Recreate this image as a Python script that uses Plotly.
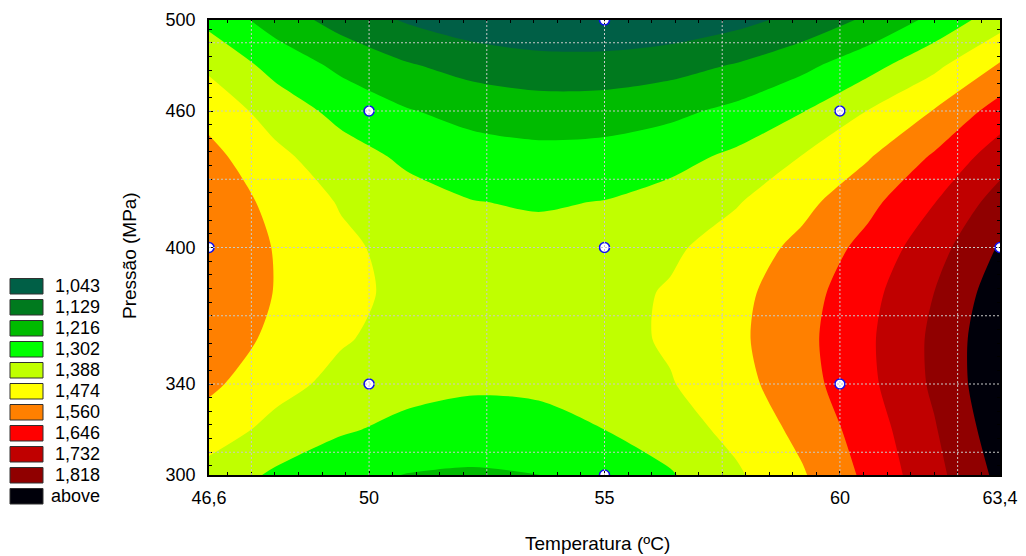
import plotly.graph_objects as go

# ---------------- data ----------------
temperature = [46.6, 48.0, 49.4, 50.8, 52.2, 53.6, 55.0, 56.4, 57.8, 59.2, 60.6, 62.0, 63.4]
pressure = [300, 320, 340, 360, 380, 400, 420, 440, 460, 480, 500]

# response surface values, one row per pressure (300 -> 500)
z_300 = [1.3551, 1.2883, 1.2408, 1.2127, 1.2039, 1.2145, 1.2444, 1.2937, 1.3750, 1.4650, 1.5800, 1.7050, 1.8400]
z_320 = [1.4324, 1.3622, 1.3114, 1.2799, 1.2677, 1.2749, 1.3015, 1.3474, 1.4127, 1.4973, 1.6012, 1.7245, 1.8672]
z_340 = [1.4908, 1.4172, 1.3630, 1.3282, 1.3127, 1.3165, 1.3397, 1.3822, 1.4441, 1.5254, 1.6260, 1.7459, 1.8852]
z_360 = [1.5302, 1.4533, 1.3958, 1.3576, 1.3387, 1.3392, 1.3590, 1.3982, 1.4567, 1.5346, 1.6319, 1.7484, 1.8844]
z_380 = [1.5508, 1.4706, 1.4096, 1.3681, 1.3459, 1.3430, 1.3595, 1.3953, 1.4505, 1.5250, 1.6189, 1.7321, 1.8647]
z_400 = [1.5525, 1.4689, 1.4046, 1.3597, 1.3341, 1.3279, 1.3410, 1.3735, 1.4253, 1.4965, 1.5870, 1.6968, 1.8260]
z_420 = [1.5354, 1.4484, 1.3807, 1.3324, 1.3035, 1.2939, 1.3037, 1.3328, 1.3812, 1.4490, 1.5362, 1.6427, 1.7685]
z_440 = [1.4993, 1.4089, 1.3379, 1.2863, 1.2540, 1.2410, 1.2474, 1.2732, 1.3183, 1.3900, 1.4665, 1.5696, 1.6921]
z_460 = [1.4443, 1.3506, 1.2762, 1.2212, 1.1856, 1.1693, 1.1723, 1.1947, 1.2364, 1.2975, 1.3900, 1.4777, 1.5969]
z_480 = [1.3705, 1.2734, 1.1957, 1.1373, 1.0983, 1.0786, 1.0783, 1.0973, 1.1357, 1.1934, 1.2705, 1.3669, 1.4827]
z_500 = [1.2777, 1.1773, 1.0962, 1.0345, 0.9921, 0.9691, 0.9654, 0.9811, 1.0161, 1.0704, 1.1442, 1.2372, 1.3496]
z_grid = [z_300, z_320, z_340, z_360, z_380, z_400, z_420, z_440, z_460, z_480, z_500]

# experimental design points
design_temp = [50, 50, 60, 60, 46.6, 63.4, 55, 55, 55]
design_press = [340, 460, 340, 460, 400, 400, 300, 500, 400]

# contour levels / legend
level_labels = ["1,043", "1,129", "1,216", "1,302", "1,388", "1,474", "1,560", "1,646", "1,732", "1,818", "above"]
level_colors = ["#005F46", "#007A1E", "#00BB00", "#00FF00", "#C0FF00", "#FFFF00",
                "#FF8000", "#FF0000", "#C00000", "#900000", "#00000A"]
level_start = 1.043
level_end = 1.818
level_step = 0.0861

# axis ticks
x_ticks = [46.6, 50, 55, 60, 63.4]
x_ticktext = ["46,6", "50", "55", "60", "63,4"]
y_ticks = [300, 340, 400, 460, 500]
y_ticktext = ["300", "340", "400", "460", "500"]
grid_x = [47.5, 50, 52.5, 55, 57.5, 60, 62.5]
grid_y = [310, 340, 370, 400, 430, 460, 490]

# ---------------- layout geometry (pixels) ----------------
W, H = 1026, 556
L, R, T, B = 209, 26, 20, 81
PW, PH = W - L - R, H - T - B
FONT = "Liberation Sans, Arial, sans-serif"


def px_x(px):
    return (px - L) / PW


def px_y(py):
    return (H - B - py) / PH


n = len(level_colors)
colorscale = [[i / (n - 1), c] for i, c in enumerate(level_colors)]

fig = go.Figure()
fig.add_trace(go.Contour(
    x=temperature, y=pressure, z=z_grid,
    colorscale=colorscale, showscale=False,
    contours=dict(start=level_start, end=level_end, size=level_step,
                  coloring="fill", showlines=False),
    line=dict(width=0, smoothing=0.8),
    hoverinfo="skip",
))

fig.add_trace(go.Scatter(
    x=design_temp, y=design_press, mode="markers",
    marker=dict(symbol="circle", size=10, color="white",
                line=dict(color="#1010F0", width=1.6)),
    showlegend=False, hoverinfo="skip",
))

shapes = []
for gx in grid_x:
    shapes.append(dict(type="line", xref="x", yref="paper", x0=gx, x1=gx, y0=0, y1=1,
                       line=dict(color="#C8C8C8", width=1, dash="2px,2px"), layer="above"))
for gy in grid_y:
    shapes.append(dict(type="line", xref="paper", yref="y", x0=0, x1=1, y0=gy, y1=gy,
                       line=dict(color="#C8C8C8", width=1, dash="2px,2px"), layer="above"))

# legend boxes (left side)
annotations = []
box_x0, box_x1 = 10, 43
box_top0, box_h, pitch = 278.5, 15.5, 21
for i, (lab, col) in enumerate(zip(level_labels, level_colors)):
    top = box_top0 + i * pitch
    shapes.append(dict(type="rect", xref="paper", yref="paper",
                       x0=px_x(box_x0), x1=px_x(box_x1),
                       y0=px_y(top + box_h), y1=px_y(top),
                       fillcolor=col, line=dict(color="#303030", width=1)))
    annotations.append(dict(xref="paper", yref="paper", x=px_x(102), y=px_y(top + box_h / 2),
                            text=lab, showarrow=False, xanchor="right", yanchor="middle",
                            font=dict(family=FONT, size=18, color="black")))

annotations.append(dict(xref="paper", yref="paper", x=px_x(597), y=px_y(543),
                        text="Temperatura (ºC)", showarrow=False, xanchor="center", yanchor="middle",
                        font=dict(family=FONT, size=19, color="black")))
annotations.append(dict(xref="paper", yref="paper", x=px_x(130), y=px_y(256),
                        text="Pressão (MPa)", showarrow=False, xanchor="center", yanchor="middle",
                        textangle=-90, font=dict(family=FONT, size=19, color="black")))

fig.update_layout(
    width=W, height=H,
    margin=dict(l=L, r=R, t=T, b=B, autoexpand=False),
    paper_bgcolor="white", plot_bgcolor="white",
    font=dict(family=FONT, size=18, color="black"),
    shapes=shapes, annotations=annotations,
    showlegend=False,
)
fig.update_xaxes(
    range=[46.6, 63.4], tickvals=x_ticks, ticktext=x_ticktext,
    showgrid=False, zeroline=False, automargin=False,
    showline=True, linecolor="black", linewidth=1.5, mirror="ticks",
    ticks="inside", ticklen=4, tickcolor="black", layer="above traces",
    ticklabelstandoff=6,
    minor=dict(dtick=0.5, tick0=55, ticks="inside", ticklen=3, tickcolor="black", showgrid=False),
    tickfont=dict(family=FONT, size=18, color="black"),
)
fig.update_yaxes(
    range=[300, 500], tickvals=y_ticks, ticktext=y_ticktext,
    showgrid=False, zeroline=False, automargin=False,
    showline=True, linecolor="black", linewidth=1.5, mirror="ticks",
    ticks="inside", ticklen=4, tickcolor="black", layer="above traces",
    ticklabelstandoff=8,
    minor=dict(dtick=6, tick0=400, ticks="inside", ticklen=3, tickcolor="black", showgrid=False),
    tickfont=dict(family=FONT, size=18, color="black"),
)

fig.write_html("out.html")
